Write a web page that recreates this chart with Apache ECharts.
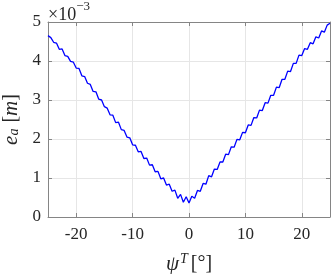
<!DOCTYPE html>
<html>
<head>
<meta charset="utf-8">
<script src="https://cdn.jsdelivr.net/npm/echarts@6/dist/echarts.min.js"></script>
<style>
  html, body { margin: 0; padding: 0; background: #fff; }
  #chart { width: 331px; height: 274px; }
</style>
</head>
<body>
<div id="chart"></div>
<script>
// psi^T [deg]
var psiT = [
  -25, -24.5, -24, -23.5, -23, -22.5, -22, -21.5, -21, -20.5,
  -20, -19.5, -19, -18.5, -18, -17.5, -17, -16.5, -16, -15.5,
  -15, -14.5, -14, -13.5, -13, -12.5, -12, -11.5, -11, -10.5,
  -10, -9.5, -9, -8.5, -8, -7.5, -7, -6.5, -6, -5.5,
  -5, -4.5, -4, -3.5, -3, -2.5, -2, -1.5, -1, -0.5,
  0, 0.5, 1, 1.5, 2, 2.5, 3, 3.5, 4, 4.5,
  5, 5.5, 6, 6.5, 7, 7.5, 8, 8.5, 9, 9.5,
  10, 10.5, 11, 11.5, 12, 12.5, 13, 13.5, 14, 14.5,
  15, 15.5, 16, 16.5, 17, 17.5, 18, 18.5, 19, 19.5,
  20, 20.5, 21, 21.5, 22, 22.5, 23, 23.5, 24, 24.5, 25
];
// e_a [m] x 1e-3
var ea = [
  4.65, 4.60, 4.48, 4.46, 4.30, 4.31, 4.14, 4.12, 3.99, 3.97,
  3.82, 3.81, 3.62, 3.60, 3.43, 3.40, 3.22, 3.21, 3.02, 3.00,
  2.83, 2.79, 2.62, 2.61, 2.42, 2.43, 2.24, 2.22, 2.05, 2.03,
  1.85, 1.84, 1.67, 1.68, 1.50, 1.51, 1.33, 1.34, 1.16, 1.17,
  0.98, 1.00, 0.82, 0.84, 0.66, 0.69, 0.48, 0.58, 0.38, 0.52,
  0.36, 0.53, 0.48, 0.68, 0.66, 0.86, 0.84, 1.06, 1.03, 1.23,
  1.22, 1.41, 1.41, 1.61, 1.60, 1.80, 1.79, 1.99, 1.98, 2.17,
  2.16, 2.36, 2.35, 2.55, 2.54, 2.74, 2.73, 2.93, 2.92, 3.12,
  3.12, 3.33, 3.32, 3.53, 3.53, 3.74, 3.73, 3.94, 3.94, 4.15,
  4.14, 4.32, 4.30, 4.47, 4.44, 4.62, 4.59, 4.77, 4.74, 4.92, 4.97
];
var xTicks = [-20, -10, 0, 10, 20];

var serif = 'Liberation Serif';
var axisGray = '#858585';
var gridGray = '#e6e6e6';
var textCol = '#262626';

var points = psiT.map(function (x, i) { return [x, ea[i]]; });

var chart = echarts.init(document.getElementById('chart'), null, { renderer: 'canvas' });

var baseX = {
  type: 'value', min: -25, max: 25,
  axisLine: { show: true, onZero: false, lineStyle: { color: axisGray, width: 1 } },
  axisTick: { show: true, inside: true, length: 4, customValues: xTicks, lineStyle: { color: axisGray } },
  splitLine: { show: false }
};
var baseY = {
  type: 'value', min: 0, max: 5, interval: 1,
  axisLine: { show: true, onZero: false, lineStyle: { color: axisGray, width: 1 } },
  axisTick: { show: true, inside: true, length: 4, lineStyle: { color: axisGray } },
  splitLine: { show: false }
};

chart.setOption({
  animation: false,
  textStyle: { fontFamily: serif },
  grid: { left: 48, right: 1, top: 22, bottom: 57, containLabel: false, outerBoundsMode: 'none' },
  xAxis: [
    Object.assign({}, baseX, {
      position: 'bottom',
      splitLine: { show: true, lineStyle: { color: gridGray, width: 1 } },
      axisLabel: {
        show: true, customValues: xTicks, margin: 9,
        fontFamily: serif, fontSize: 17, color: textCol
      },
      name: '{i|\u03c8}{sup|T}{n|[\u00b0]}',
      nameLocation: 'middle', nameGap: 35,
      nameTextStyle: {
        rich: {
          i: { fontFamily: serif, fontStyle: 'italic', fontSize: 21, color: textCol },
          sup: { fontFamily: serif, fontStyle: 'italic', fontSize: 14, color: textCol, verticalAlign: 'top', padding: [0, 3, 10, 1] },
          n: { fontFamily: serif, fontSize: 20, color: textCol }
        }
      }
    }),
    Object.assign({}, baseX, { position: 'top', axisLabel: { show: false } })
  ],
  yAxis: [
    Object.assign({}, baseY, {
      position: 'left',
      splitLine: { show: true, lineStyle: { color: gridGray, width: 1 } },
      axisLabel: { show: true, margin: 7, fontFamily: serif, fontSize: 17, color: textCol },
      name: '{i|e}{sub|a}{n| [}{i|m}{n|]}',
      nameLocation: 'middle', nameGap: 26, nameRotate: 90,
      nameTextStyle: {
        rich: {
          i: { fontFamily: serif, fontStyle: 'italic', fontSize: 21, color: textCol },
          sub: { fontFamily: serif, fontStyle: 'italic', fontSize: 14, color: textCol, verticalAlign: 'bottom', padding: [7, 1, 0, 0] },
          n: { fontFamily: serif, fontSize: 20, color: textCol }
        }
      }
    }),
    Object.assign({}, baseY, { position: 'right', axisLabel: { show: false } })
  ],
  graphic: [
    {
      type: 'text', left: 48, top: 0,
      style: {
        text: '{n|\u00d710}{sup|\u22123}',
        rich: {
          n: { fontFamily: serif, fontSize: 18, fill: textCol, verticalAlign: 'bottom', padding: [6, 0, 0, 0] },
          sup: { fontFamily: serif, fontSize: 13, fill: textCol, verticalAlign: 'top', padding: [0, 0, 8, 0] }
        }
      }
    }
  ],
  series: [
    {
      type: 'line',
      data: points,
      xAxisIndex: 0, yAxisIndex: 0,
      showSymbol: false,
      symbol: 'none',
      lineStyle: { color: '#0000ff', width: 1.3 }
    }
  ]
});
</script>
</body>
</html>
